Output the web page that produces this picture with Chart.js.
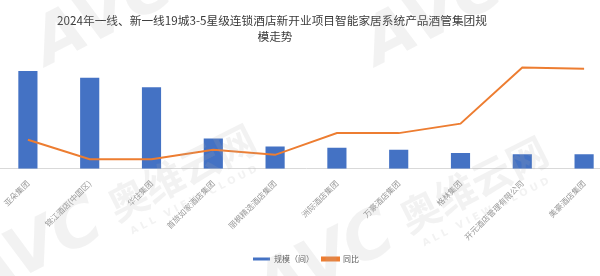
<!DOCTYPE html>
<html>
<head>
<meta charset="utf-8">
<script src="https://cdn.jsdelivr.net/npm/chart.js@4.4.1/dist/chart.umd.min.js"></script>
<style>
  html, body { margin: 0; padding: 0; background: #fff; overflow: hidden; }
  #wrap { position: absolute; left: -3px; top: 0; width: 618px; height: 276px; }
</style>
</head>
<body>
<div id="wrap"><canvas id="c"></canvas></div>
<script>
// Hotel groups (categories)
const groups = [
  '亚朵集团',
  '锦江酒店(中国区)',
  '华住集团',
  '首旅如家酒店集团',
  '丽枫精选酒店集团',
  '洲际酒店集团',
  '万豪酒店集团',
  '格林集团',
  '开元酒店管理有限公司',
  '美豪酒店集团'
];
// Scale of new-opening projects (rooms)
const scaleRooms = [5390, 5020, 4490, 1670, 1220, 1150, 1040, 870, 795, 795];
// Year-on-year change (%)
const yoy = [26.6, 8.6, 8.6, 17.3, 12.7, 32.7, 32.7, 41.4, 93.2, 91.9];

const titleLines = [
  '2024年一线、新一线19城3-5星级连锁酒店新开业项目智能家居系统产品酒管集团规',
  '模走势'
];

const FONT = '"Noto Sans CJK SC", "Noto Sans", sans-serif';

// Two-line heading drawn above the plot
const headingPlugin = {
  id: 'heading',
  afterDraw(chart) {
    const ctx = chart.ctx;
    ctx.save();
    ctx.fillStyle = '#3a3a3a';
    ctx.font = '11.7px ' + FONT;
    ctx.textAlign = 'center';
    ctx.textBaseline = 'middle';
    ctx.fillText(titleLines[0], 275, 21);
    ctx.fillText(titleLines[1], 278, 37);
    ctx.restore();
  }
};

// Faint brand watermark laid over the whole canvas
const watermarkPlugin = {
  id: 'watermark',
  afterDraw(chart) {
    const ctx = chart.ctx;
    const stamp = (x, y, full) => {
      ctx.save();
      ctx.translate(x, y);
      ctx.rotate(-0.47);
      ctx.fillStyle = 'rgba(175,175,175,0.16)';
      ctx.textBaseline = 'alphabetic';
      ctx.font = 'italic bold 66px "DejaVu Sans", sans-serif';
      ctx.fillText('AVC', 0, 0);
      if (full) {
        ctx.font = 'bold 40px ' + FONT;
        ctx.fillText('奥维云网', 160, -6);
        ctx.font = 'bold 10px "DejaVu Sans", sans-serif';
        ctx.fillText('A L L   V I E W   C L O U D', 168, 12);
      }
      ctx.restore();
    };
    stamp(50, 66, false);
    stamp(380, 66, false);
    stamp(-20, 300, true);
    stamp(272, 312, true);
  }
};

new Chart(document.getElementById('c'), {
  type: 'bar',
  data: {
    labels: groups,
    datasets: [
      {
        type: 'bar',
        label: '规模（间）',
        data: scaleRooms,
        backgroundColor: '#4472C4',
        borderWidth: 0,
        barPercentage: 0.31,
        categoryPercentage: 1,
        yAxisID: 'y',
        order: 2
      },
      {
        type: 'line',
        label: '同比',
        data: yoy,
        borderColor: '#ED7D31',
        backgroundColor: '#ED7D31',
        borderWidth: 2,
        pointRadius: 0,
        tension: 0,
        yAxisID: 'y2',
        order: 1
      }
    ]
  },
  options: {
    responsive: true,
    maintainAspectRatio: false,
    animation: false,
    layout: { padding: { top: 60, left: 0, right: 0, bottom: 3 } },
    plugins: {
      title: { display: false },
      tooltip: { enabled: false },
      legend: {
        position: 'bottom',
        labels: {
          sort: (a, b) => a.datasetIndex - b.datasetIndex,
          boxWidth: 17,
          boxHeight: 3,
          color: '#595959',
          font: { family: FONT, size: 8 },
          padding: 8
        }
      }
    },
    scales: {
      x: {
        grid: { display: false },
        border: { display: true, color: '#d9d9d9', width: 1 },
        afterFit(scale) { scale.height += 3; },
        ticks: {
          color: '#999999',
          font: { family: FONT, size: 8 },
          minRotation: 45,
          maxRotation: 45,
          autoSkip: false,
          padding: 2
        }
      },
      y: { display: false, min: 0, max: 6000 },
      y2: { display: false, min: 0, max: 100, position: 'right' }
    }
  },
  plugins: [headingPlugin, watermarkPlugin]
});
</script>
</body>
</html>
